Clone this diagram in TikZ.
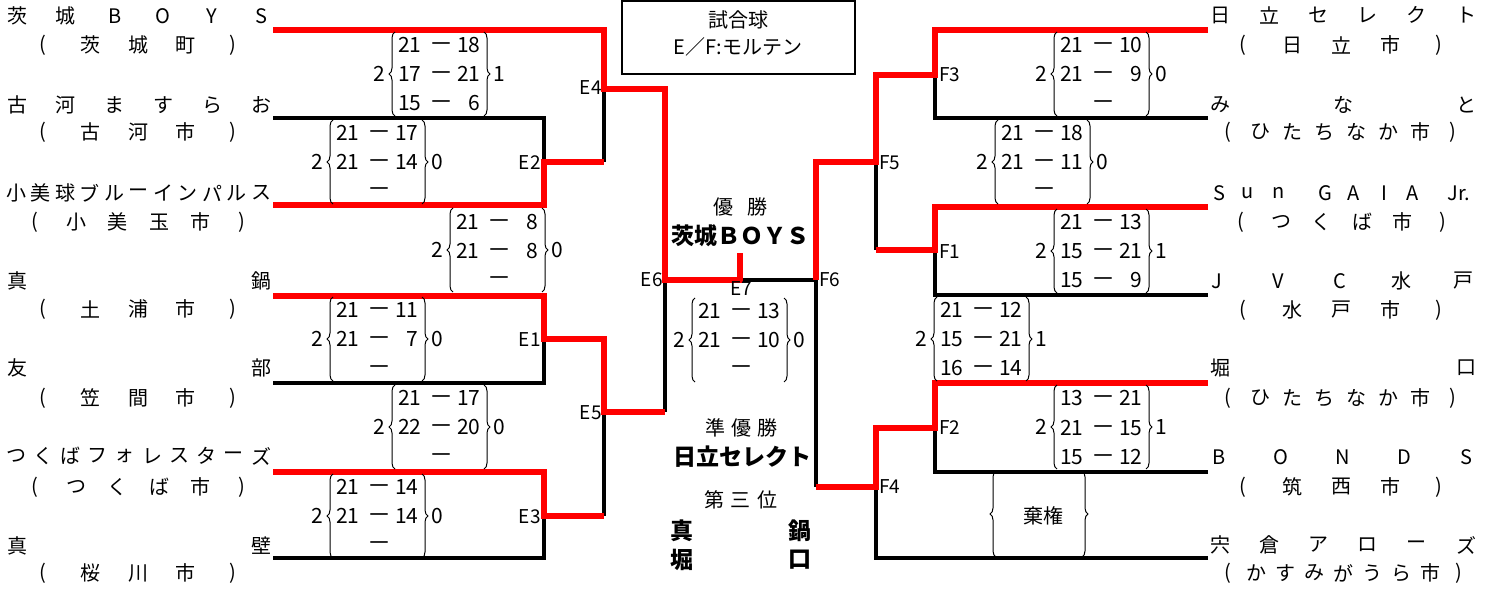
\documentclass[tikz,border=0pt]{standalone}
\usepackage{fontspec}
\setmainfont{Noto Sans CJK JP}
\usetikzlibrary{decorations.pathreplacing}
\tikzset{
  nm/.style={font=\fontsize{10}{12}\selectfont, inner sep=0pt},
  sc/.style={font=\fontsize{10.5}{12}\selectfont, inner sep=0pt},
  scd/.style={font=\fontsize{12}{13}\selectfont, inner sep=0pt, yshift=-1.5pt},
  lb/.style={font=\fontsize{9.5}{11}\selectfont, inner sep=0pt},
  big/.style={font=\fontsize{11.5}{13}\selectfont\bfseries, inner sep=0pt},
  win/.style={draw=red, line width=3pt},
  lose/.style={draw=black, line width=1.6pt},
  br/.style={draw, line width=0.5pt, decorate, decoration={brace, amplitude=3pt}},
}
% distribute characters evenly between two centres
\newcommand\spread[6]{%
  \foreach \ch [count=\k] in {#6} {\xdef\spreadn{\k}}%
  \foreach \ch [count=\k] in {#6} {%
    \pgfmathsetmacro\spreadx{#3+(\k-1)*(#4-#3)/(\spreadn-1)}%
    \node[#5] (#1-\k) at (\spreadx,#2) {\ch};}%
}
% score block: braces and set numbers
\newcommand\sblock[5]{%
  \draw[br] (#2-46,#3+42) -- (#2-46,#3-42);
  \draw[br] (#2+43,#3-42) -- (#2+43,#3+42);
  \node[sc] (#1-l) at (#2-62,#3) {#4};
  \node[sc] (#1-r) at (#2+58,#3) {#5};
}
\newcommand\srow[5]{%
  \node[sc,anchor=east] (#1-a) at (#2-19,#3) {#4};
  \node[scd] (#1-d) at (#2,#3) {－};
  \node[sc,anchor=east] (#1-b) at (#2+40,#3) {#5};
}
\newcommand\sdash[3]{\node[scd] (#1-d) at (#2,#3) {－};}
\begin{document}
\begin{tikzpicture}[x=0.5pt,y=-0.5pt]
\useasboundingbox (0,0) rectangle (1491,588);
% ---------- coordinates
\coordinate (L1) at (273,30);  \coordinate (L2) at (273,118);
\coordinate (L3) at (273,205); \coordinate (L4) at (273,296);
\coordinate (L5) at (273,383); \coordinate (L6) at (273,472);
\coordinate (L7) at (273,558);
\coordinate (R1) at (1208,30);  \coordinate (R2) at (1208,118);
\coordinate (R3) at (1208,207); \coordinate (R4) at (1208,295);
\coordinate (R5) at (1208,383); \coordinate (R6) at (1208,472);
\coordinate (R7) at (1208,558);
\coordinate (E2) at (544,162); \coordinate (E1) at (544,339);
\coordinate (E3) at (544,516); \coordinate (E4) at (604,89);
\coordinate (E5) at (604,412); \coordinate (E6) at (665,280);
\coordinate (E7) at (740,280); \coordinate (E7t) at (740,253);
\coordinate (F6) at (816,280);
\coordinate (F3) at (935,75); \coordinate (F1) at (935,250);
\coordinate (F2) at (935,428); \coordinate (F5) at (876,162);
\coordinate (F4) at (876,487);
% ---------- losing lines
\draw[lose] (L2) -| (E2);
\draw[lose] (E4) -- (E4 |- E2);
\draw[lose] (L5) -| (E1);
\draw[lose] (E5) -- (E5 |- E3);
\draw[lose] (L7) -| (E3);
\draw[lose] (E6) -- (E6 |- E5);
\draw[lose] (E7) -- (F6);
\draw[lose] (R2) -| (F3);
\draw[lose] (F5) -- (F5 |- F1);
\draw[lose] (R4) -| (F1);
\draw[lose] (R6) -| (F2);
\draw[lose] (F6) -- (F6 |- F4);
\draw[lose] (R7) -| (F4);
% ---------- winning lines
\draw[win] (L1) -| (E4) -- (E4 -| E6) -- (E6) -- (E7) -- (E7t);
\draw[win] (L3) -| (E2) -- (E2 -| E4);
\draw[win] (L4) -| (E1) -- (E1 -| E5) -- (E5) -- (E5 -| E6);
\draw[win] (L6) -| (E3) -- (E3 -| E5);
\draw[win] (R1) -| (F3) -- (F3 -| F5) -- (F5) -- (F5 -| F6) -- (F6);
\draw[win] (R3) -| (F1) -- (F1 -| F5);
\draw[win] (R5) -| (F2) -- (F2 -| F5) -- (F4) -- (F4 -| F6);
% ---------- match labels
\node[lb,anchor=east] (lE4) at (602,88) {E4};
\node[lb,anchor=east] (lE2) at (541,163) {E2};
\node[lb,anchor=east] (lE1) at (541,340) {E1};
\node[lb,anchor=east] (lE5) at (602,413) {E5};
\node[lb,anchor=east] (lE3) at (541,517) {E3};
\node[lb,anchor=east] (lE6) at (663,280) {E6};
\node[lb] (lE7) at (741,289) {E7};
\node[lb,anchor=west] (lF6) at (819,280) {F6};
\node[lb,anchor=west] (lF5) at (879,163) {F5};
\node[lb,anchor=west] (lF3) at (939,75) {F3};
\node[lb,anchor=west] (lF1) at (939,252) {F1};
\node[lb,anchor=west] (lF2) at (939,428) {F2};
\node[lb,anchor=west] (lF4) at (879,487) {F4};
% ---------- scores left
\sblock{b1}{441}{74}{2}{1}
\srow{b1r1}{441}{45}{21}{18}\srow{b1r2}{441}{74}{17}{21}\srow{b1r3}{441}{103}{15}{6}
\sblock{b2}{379}{162}{2}{0}
\srow{b2r1}{379}{133}{21}{17}\srow{b2r2}{379}{162}{21}{14}\sdash{b2r3}{379}{190}
\sblock{b3}{499}{250}{2}{0}
\srow{b3r1}{499}{222}{21}{8}\srow{b3r2}{499}{251}{21}{8}\sdash{b3r3}{499}{279}
\sblock{b4}{379}{339}{2}{0}
\srow{b4r1}{379}{310}{21}{11}\srow{b4r2}{379}{339}{21}{7}\sdash{b4r3}{379}{368}
\sblock{b5}{441}{427}{2}{0}
\srow{b5r1}{441}{398}{21}{17}\srow{b5r2}{441}{427}{22}{20}\sdash{b5r3}{441}{456}
\sblock{b6}{379}{516}{2}{0}
\srow{b6r1}{379}{487}{21}{14}\srow{b6r2}{379}{516}{21}{14}\sdash{b6r3}{379}{544}
\sblock{b7}{741}{340}{2}{0}
\srow{b7r1}{741}{311}{21}{13}\srow{b7r2}{741}{340}{21}{10}\sdash{b7r3}{741}{368}
% ---------- scores right
\sblock{b8}{1103}{74}{2}{0}
\srow{b8r1}{1103}{45}{21}{10}\srow{b8r2}{1103}{74}{21}{9}\sdash{b8r3}{1103}{103}
\sblock{b9}{1044}{162}{2}{0}
\srow{b9r1}{1044}{133}{21}{18}\srow{b9r2}{1044}{162}{21}{11}\sdash{b9r3}{1044}{190}
\sblock{b10}{1103}{251}{2}{1}
\srow{b10r1}{1103}{222}{21}{13}\srow{b10r2}{1103}{251}{15}{21}\srow{b10r3}{1103}{280}{15}{9}
\sblock{b11}{983}{339}{2}{1}
\srow{b11r1}{983}{310}{21}{12}\srow{b11r2}{983}{339}{15}{21}\srow{b11r3}{983}{368}{16}{14}
\sblock{b12}{1103}{427}{2}{1}
\srow{b12r1}{1103}{398}{13}{21}\srow{b12r2}{1103}{428}{21}{15}\srow{b12r3}{1103}{457}{15}{12}
\draw[br] (996,557) -- (996,471);
\draw[br] (1082,471) -- (1082,557);
\node[font=\fontsize{10}{12}\selectfont, inner sep=0pt] (kiken) at (1043,516) {棄権};
% ---------- title box
\node[draw, line width=0.6pt, minimum width=116.5pt, minimum height=36.5pt, inner sep=0pt] (ballbox) at (738.5,37.5) {};
\node[nm] (ball1) at (738,20) {試合球};
\node[nm] (ball2) at (738,47) {E／F:モルテン};
% ---------- centre results
\spread{yu}{207}{723}{757}{nm}{優,勝}
\node[big] (champ) at (740,236) {茨城ＢＯＹＳ};
\spread{jy}{428}{715}{767}{nm}{準,優,勝}
\node[big] (second) at (742,457) {日立セレクト};
\spread{th}{500}{714}{767}{nm}{第,三,位}
\node[big] (t1a) at (682,531) {真};
\node[big] (t1b) at (800,531) {鍋};
\node[big] (t2a) at (682,560) {堀};
\node[big] (t2b) at (800,560) {口};
% ---------- left team names
\spread{nA}{16}{17}{261}{nm}{茨,城,B,O,Y,S}
\spread{sA}{45}{43}{233}{nm}{{(},茨,城,町,{)}}
\spread{nB}{105}{17}{261}{nm}{古,河,ま,す,ら,お}
\spread{sB}{132}{43}{233}{nm}{{(},古,河,市,{)}}
\spread{nC}{193}{16}{261}{nm}{小,美,球,ブ,ル,ー,イ,ン,パ,ル,ス}
\spread{sC}{222}{35}{242}{nm}{{(},小,美,玉,市,{)}}
\spread{nD}{281}{17}{261}{nm}{真,鍋}
\spread{sD}{309}{43}{233}{nm}{{(},土,浦,市,{)}}
\spread{nE}{368}{17}{261}{nm}{友,部}
\spread{sE}{398}{43}{233}{nm}{{(},笠,間,市,{)}}
\spread{nF}{456}{16}{261}{nm}{つ,く,ば,フ,ォ,レ,ス,タ,ー,ズ}
\spread{sF}{487}{35}{242}{nm}{{(},つ,く,ば,市,{)}}
\spread{nG}{546}{17}{261}{nm}{真,壁}
\spread{sG}{573}{43}{233}{nm}{{(},桜,川,市,{)}}
% ---------- right team names
\spread{nH}{15}{1220}{1466}{nm}{日,立,セ,レ,ク,ト}
\spread{sH}{45}{1243}{1439}{nm}{{(},日,立,市,{)}}
\spread{nI}{105}{1220}{1466}{nm}{み,な,と}
\spread{sI}{132}{1228}{1453}{nm}{{(},ひ,た,ち,な,か,市,{)}}
\node[nm] (nJ-1) at (1219,193) {S};
\node[nm] (nJ-2) at (1248,193) {u};
\node[nm] (nJ-3) at (1279,193) {n};
\node[nm] (nJ-4) at (1325,193) {G};
\node[nm] (nJ-5) at (1354,193) {A};
\node[nm] (nJ-6) at (1384,193) {I};
\node[nm] (nJ-7) at (1413,193) {A};
\node[nm] (nJ-8) at (1459,193) {Jr.};
\spread{sJ}{222}{1241}{1443}{nm}{{(},つ,く,ば,市,{)}}
\spread{nK}{281}{1217}{1463}{nm}{J,V,C,水,戸}
\spread{sK}{310}{1243}{1439}{nm}{{(},水,戸,市,{)}}
\spread{nL}{368}{1220}{1466}{nm}{堀,口}
\spread{sL}{398}{1228}{1453}{nm}{{(},ひ,た,ち,な,か,市,{)}}
\spread{nM}{457}{1219}{1466}{nm}{B,O,N,D,S}
\spread{sM}{487}{1243}{1439}{nm}{{(},筑,西,市,{)}}
\spread{nN}{545}{1220}{1466}{nm}{宍,倉,ア,ロ,ー,ズ}
\spread{sN}{573}{1228}{1459}{nm}{{(},か,す,み,が,う,ら,市,{)}}
\end{tikzpicture}
\end{document}
